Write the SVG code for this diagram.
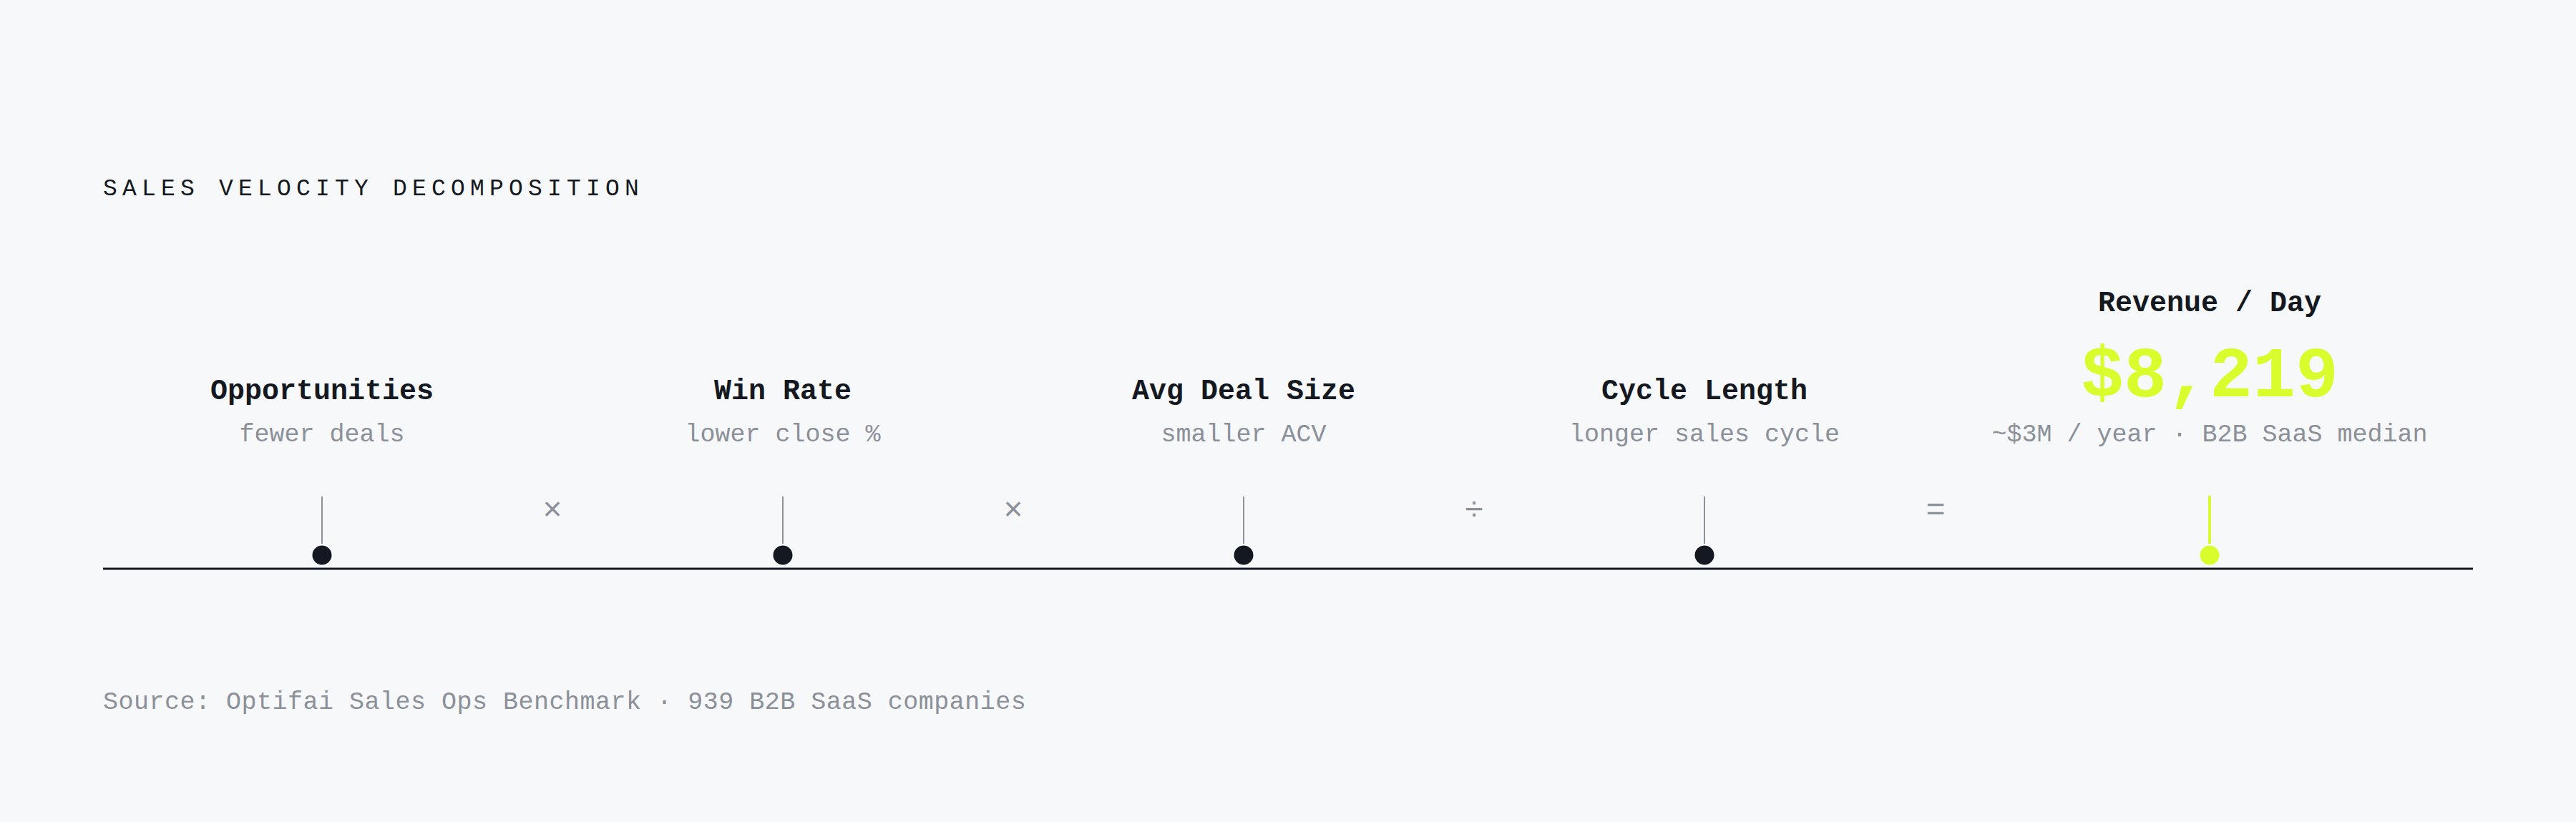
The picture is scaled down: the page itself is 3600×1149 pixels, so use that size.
<svg xmlns="http://www.w3.org/2000/svg" width="3600" height="1149" viewBox="0 0 3600 1149">
  <style>
    .mono { font-family: "Liberation Mono", "DejaVu Sans Mono", monospace; }
    .title { font-size: 33px; letter-spacing: 7.2px; fill: #141820; }
    .label { font-size: 40px; font-weight: bold; fill: #141820; text-anchor: middle; }
    .sub { font-size: 35px; fill: #8b9099; text-anchor: middle; }
    .op { font-size: 46px; fill: #8b9099; text-anchor: middle; }
    .src { font-size: 35px; letter-spacing: 0.5px; fill: #8b9099; }
    .big { font-size: 100px; font-weight: bold; fill: #d9fd2c; text-anchor: middle; }
    .stem { stroke: #8b9099; stroke-width: 2; }
    .dot { fill: #141820; }
  </style>
  <rect width="3600" height="1149" fill="#f7f8fa"/>
  <text class="mono title" x="144" y="273">SALES VELOCITY DECOMPOSITION</text>

  <g id="connectors">
    <line x1="144" y1="795" x2="3456" y2="795" stroke="#141820" stroke-width="3"/>
  </g>

  <g id="node-opportunities">
    <text class="mono label" x="450" y="558">Opportunities</text>
    <text class="mono sub" x="450" y="617">fewer deals</text>
    <line class="stem" x1="450" y1="694" x2="450" y2="760"/>
    <circle class="dot" cx="450" cy="776" r="13.5"/>
  </g>
  <g id="op-1"><text class="mono op" x="772" y="727">×</text></g>

  <g id="node-winrate">
    <text class="mono label" x="1094" y="558">Win Rate</text>
    <text class="mono sub" x="1094" y="617">lower close %</text>
    <line class="stem" x1="1094" y1="694" x2="1094" y2="760"/>
    <circle class="dot" cx="1094" cy="776" r="13.5"/>
  </g>
  <g id="op-2"><text class="mono op" x="1416" y="727">×</text></g>

  <g id="node-dealsize">
    <text class="mono label" x="1738" y="558">Avg Deal Size</text>
    <text class="mono sub" x="1738" y="617">smaller ACV</text>
    <line class="stem" x1="1738" y1="694" x2="1738" y2="760"/>
    <circle class="dot" cx="1738" cy="776" r="13.5"/>
  </g>
  <g id="op-3"><text class="mono op" x="2060" y="727">÷</text></g>

  <g id="node-cycle">
    <text class="mono label" x="2382" y="558">Cycle Length</text>
    <text class="mono sub" x="2382" y="617">longer sales cycle</text>
    <line class="stem" x1="2382" y1="694" x2="2382" y2="760"/>
    <circle class="dot" cx="2382" cy="776" r="13.5"/>
  </g>
  <g id="op-4"><text class="mono op" x="2705" y="727">=</text></g>

  <g id="node-revenue">
    <text class="mono label" x="3088" y="435">Revenue / Day</text>
    <text class="mono big" x="3088" y="554">$8,219</text>
    <text class="mono sub" x="3088" y="617">~$3M / year · B2B SaaS median</text>
    <line x1="3088" y1="693" x2="3088" y2="760" stroke="#d9fd2c" stroke-width="4"/>
    <circle cx="3088" cy="776" r="13.5" fill="#d9fd2c"/>
  </g>

  <text class="mono src" x="144" y="991">Source: Optifai Sales Ops Benchmark · 939 B2B SaaS companies</text>
</svg>
